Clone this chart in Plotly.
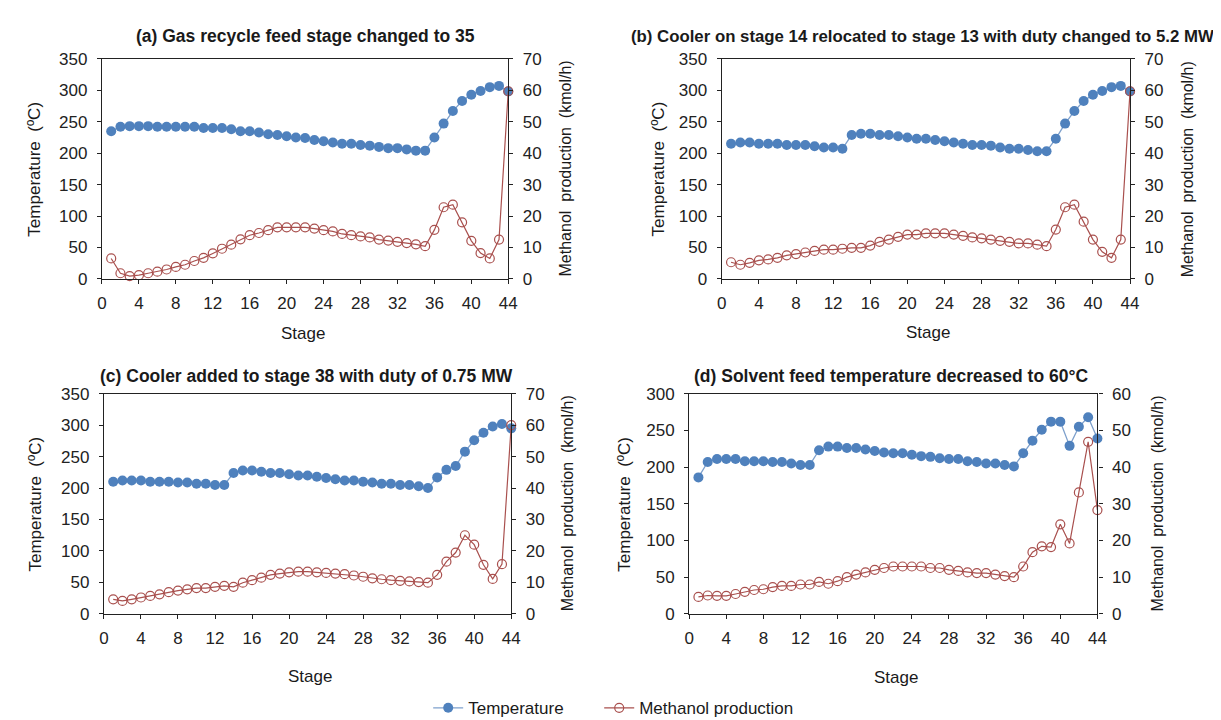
import plotly.graph_objects as go

stages = list(range(1, 45))

temp_a = [235, 242, 243, 243, 243, 242, 242, 242, 242, 242, 240, 240, 240, 238, 235,
          235, 233, 230, 229, 227, 225, 224, 221, 219, 217, 215, 215, 213, 212, 210,
          208, 208, 206, 204, 204, 225, 247, 267, 283, 293, 299, 305, 307, 298]
meoh_a = [6.5, 1.8, 0.9, 1.2, 1.8, 2.3, 3.0, 3.8, 4.5, 5.7, 6.7, 8.1, 9.6, 10.9, 12.6,
          13.9, 14.6, 15.5, 16.4, 16.4, 16.4, 16.4, 16.0, 15.5, 15.1, 14.3, 13.9, 13.5, 13.2, 12.5,
          12.2, 11.8, 11.4, 11.0, 10.4, 15.6, 22.8, 23.6, 18.0, 12.1, 8.2, 6.5, 12.5, 59.7]

temp_b = [215, 217, 217, 215, 215, 215, 213, 213, 213, 211, 209, 209, 207, 229, 231,
          231, 229, 229, 227, 225, 223, 223, 221, 219, 217, 215, 213, 213, 212, 209,
          207, 207, 205, 203, 203, 223, 247, 267, 283, 293, 299, 305, 307, 298]
meoh_b = [5.3, 4.5, 5.1, 5.9, 6.2, 6.7, 7.5, 7.9, 8.4, 8.9, 9.3, 9.3, 9.6, 9.9, 9.9,
          10.6, 11.8, 12.5, 13.4, 14.1, 14.1, 14.5, 14.5, 14.5, 14.1, 13.7, 13.2, 12.9, 12.5, 12.1,
          11.8, 11.3, 11.3, 10.9, 10.4, 15.7, 22.8, 23.6, 18.2, 12.5, 8.6, 6.7, 12.5, 59.7]

temp_c = [210, 212, 212, 212, 210, 210, 210, 209, 209, 207, 207, 205, 205, 224, 228,
          228, 226, 224, 224, 222, 220, 220, 218, 216, 214, 212, 212, 210, 209, 207,
          207, 205, 205, 203, 200, 217, 229, 235, 258, 276, 288, 298, 302, 295]
meoh_c = [4.6, 4.1, 4.6, 5.2, 5.7, 6.2, 6.9, 7.4, 7.8, 8.2, 8.2, 8.6, 8.9, 8.6, 9.9,
          10.7, 11.5, 12.4, 12.8, 13.2, 13.4, 13.4, 13.2, 13.0, 12.8, 12.6, 12.2, 11.8, 11.3, 11.0,
          10.7, 10.5, 10.3, 10.1, 9.9, 12.4, 16.6, 19.5, 25.0, 22.0, 15.6, 11.1, 15.8, 60.0]

temp_d = [186, 207, 211, 211, 211, 208, 208, 208, 207, 207, 205, 203, 203, 223, 228,
          228, 226, 226, 224, 222, 220, 219, 219, 217, 215, 214, 212, 211, 211, 208,
          207, 205, 205, 203, 201, 219, 236, 251, 262, 262, 229, 255, 268, 239]
meoh_d = [4.6, 5.0, 4.9, 4.9, 5.4, 6.0, 6.5, 6.7, 7.3, 7.6, 7.6, 8.0, 8.0, 8.7, 8.2,
          8.9, 10.0, 10.7, 11.3, 12.0, 12.5, 12.9, 12.9, 12.9, 12.9, 12.5, 12.5, 12.0, 11.7, 11.3,
          11.1, 11.1, 10.7, 10.3, 10.0, 12.9, 16.8, 18.4, 18.2, 24.4, 19.2, 33.1, 46.9, 28.3]

titles = ["(a) Gas recycle feed stage changed to 35",
          "(b) Cooler on stage 14 relocated to stage 13 with duty changed to 5.2 MW",
          "(c) Cooler added to stage 38 with duty of 0.75 MW",
          "(d) Solvent feed temperature decreased to 60°C"]
temp_ranges = [350, 350, 350, 300]
meoh_ranges = [70, 70, 70, 60]
x_ticks = list(range(0, 45, 4))

W, H = 1221, 720
FONT = "Liberation Sans, Arial, sans-serif"
BLUE = "#4F81BD"
BLUE_LINE = "#7EA0CC"
RED = "#A9504E"

# pixel boxes: (left, right, top, bottom)
boxes = [(90, 501, 43, 269), (717, 1130, 43, 269), (92, 504, 387, 613), (684, 1097, 387, 613)]
title_pos = [(296, 20), (920, 20), (297, 369), (888, 369)]
title_size = [17.5, 16.8, 17.5, 17.5]
ylab_left = [22, 653, 23, 619]
ylab_right = [559, 1189, 561, 1158]
stage_pos = [(293, 325), (926, 324), (300, 677), (893, 678)]

temps = [temp_a, temp_b, temp_c, temp_d]
meohs = [meoh_a, meoh_b, meoh_c, meoh_d]

fig = go.Figure()
layout = dict(width=W, height=H, margin=dict(l=0, r=0, t=0, b=0),
              paper_bgcolor="white", plot_bgcolor="white",
              font=dict(family=FONT, size=17, color="#1a1a1a"))
annotations = []

for i in range(4):
    n = i + 1
    xa = "x" if n == 1 else f"x{n}"
    ya = "y" if n == 1 else f"y{n}"
    ya2 = f"y{n + 4}"
    l, r, t, b = boxes[i]
    xdom = [l / W, r / W]
    ydom = [1 - b / H, 1 - t / H]
    axis_common = dict(showline=True, linecolor="#222", linewidth=1.3, showgrid=False,
                       zeroline=False, ticks="outside", ticklen=4, tickcolor="#222",
                       tickwidth=1.2, tickfont=dict(family=FONT, size=17, color="#222"))
    layout["xaxis" if n == 1 else f"xaxis{n}"] = dict(
        domain=xdom, anchor=ya, range=[0, 44], tickvals=x_ticks, mirror=True,
        ticklabelstandoff=5, **axis_common)
    layout["yaxis" if n == 1 else f"yaxis{n}"] = dict(
        domain=ydom, anchor=xa, range=[0, temp_ranges[i]], dtick=50,
        ticklabelstandoff=6, **axis_common)
    layout[f"yaxis{n + 4}"] = dict(
        overlaying=ya, side="right", anchor=xa, range=[0, meoh_ranges[i]], dtick=10,
        ticklabelstandoff=6, **axis_common)

    fig.add_trace(go.Scatter(
        x=stages, y=temps[i], xaxis=xa, yaxis=ya, mode="lines+markers", name="Temperature",
        line=dict(color=BLUE_LINE, width=1.3), marker=dict(color=BLUE, size=10, symbol="circle"),
        cliponaxis=False, showlegend=(i == 0), legend="legend"))
    fig.add_trace(go.Scatter(
        x=stages, y=meohs[i], xaxis=xa, yaxis=ya2, mode="lines+markers", name="Methanol production",
        line=dict(color=RED, width=1.2),
        marker=dict(color="rgba(0,0,0,0)", size=9, symbol="circle",
                    line=dict(color=RED, width=1.2)),
        cliponaxis=False, showlegend=(i == 0), legend="legend2"))

    tx, ty = title_pos[i]
    annotations.append(dict(text=f"<b>{titles[i]}</b>", x=tx / W, y=1 - ty / H, xref="paper",
                            yref="paper", xanchor="center", yanchor="middle", showarrow=False,
                            font=dict(family=FONT, size=title_size[i], color="#1a1a1a")))
    ymid = 1 - ((t + b) / 2) / H
    annotations.append(dict(text="Temperature  (ºC)", x=ylab_left[i] / W, y=ymid, xref="paper",
                            yref="paper", xanchor="center", yanchor="middle", textangle=-90,
                            showarrow=False, font=dict(family=FONT, size=17, color="#1a1a1a")))
    annotations.append(dict(text="Methanol  production  (kmol/h)", x=ylab_right[i] / W, y=ymid,
                            xref="paper", yref="paper", xanchor="center", yanchor="middle",
                            textangle=-90, showarrow=False,
                            font=dict(family=FONT, size=16, color="#1a1a1a")))
    sx, sy = stage_pos[i]
    annotations.append(dict(text="Stage", x=sx / W, y=1 - sy / H, xref="paper", yref="paper",
                            xanchor="center", yanchor="middle", showarrow=False,
                            font=dict(family=FONT, size=17, color="#1a1a1a")))

layout["annotations"] = annotations
leg_common = dict(orientation="h", y=1 - 710 / H, xanchor="left", yanchor="middle",
                  font=dict(family=FONT, size=17, color="#1a1a1a"), bgcolor="rgba(0,0,0,0)")
layout["legend"] = dict(x=420 / W, **leg_common)
layout["legend2"] = dict(x=593 / W, **leg_common)
fig.update_layout(**layout)
fig.write_html("out.html")
